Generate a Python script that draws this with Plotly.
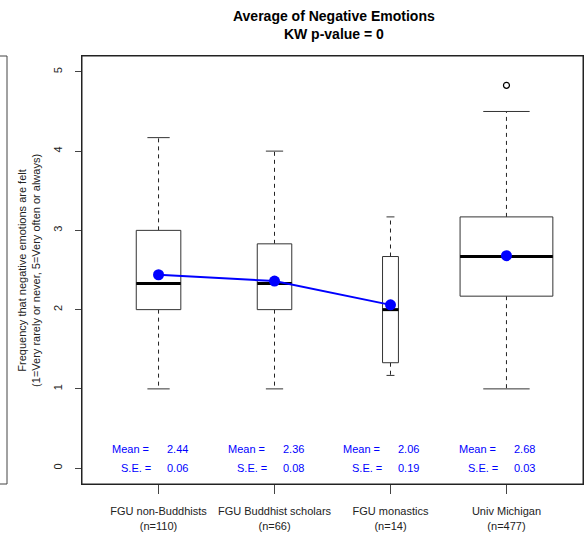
import numpy as np
import plotly.graph_objects as go

# data
groups = ["FGU non-Buddhists", "FGU Buddhist scholars", "FGU monastics", "Univ Michigan"]
n_obs = [110, 66, 14, 477]
lower_whisker = [1.0, 1.0, 1.17, 1.0]
q1 = [2.0, 2.0, 1.33, 2.17]
median = [2.33, 2.33, 2.0, 2.67]
q3 = [3.0, 2.83, 2.67, 3.17]
upper_whisker = [4.17, 4.0, 3.17, 4.5]
outlier_group = [4]
outlier_value = [4.83]
means = [2.44, 2.36, 2.06, 2.68]
std_err = [0.06, 0.08, 0.19, 0.03]
fgu_count = 3  # mean line only joins the FGU groups

FONT = "Liberation Sans, Arial, sans-serif"
xs = np.arange(1, len(groups) + 1)
half_w = 0.4 * np.sqrt(np.array(n_obs) / max(n_obs))

fig = go.Figure()

for i, x in enumerate(xs):
    w = half_w[i]
    # whiskers (dashed)
    fig.add_trace(go.Scatter(
        x=[x, x, None, x, x], y=[q3[i], upper_whisker[i], None, q1[i], lower_whisker[i]],
        mode="lines", line=dict(color="#222", width=1, dash="4px,4px"),
        hoverinfo="skip", showlegend=False))
    # staples
    fig.add_trace(go.Scatter(
        x=[x - w / 2, x + w / 2, None, x - w / 2, x + w / 2],
        y=[upper_whisker[i], upper_whisker[i], None, lower_whisker[i], lower_whisker[i]],
        mode="lines", line=dict(color="#333", width=1),
        hoverinfo="skip", showlegend=False))
    # box
    fig.add_trace(go.Scatter(
        x=[x - w, x + w, x + w, x - w, x - w], y=[q1[i], q1[i], q3[i], q3[i], q1[i]],
        mode="lines", fill="toself", fillcolor="white", line=dict(color="#333", width=1),
        hoverinfo="skip", showlegend=False))
    # median
    fig.add_trace(go.Scatter(
        x=[x - w, x + w], y=[median[i], median[i]],
        mode="lines", line=dict(color="black", width=3),
        hoverinfo="skip", showlegend=False))

fig.add_trace(go.Scatter(
    x=outlier_group, y=outlier_value, mode="markers",
    marker=dict(symbol="circle-open", size=6, color="black", line=dict(width=1.2)),
    showlegend=False))

fig.add_trace(go.Scatter(
    x=xs[:fgu_count], y=means[:fgu_count], mode="lines",
    line=dict(color="blue", width=2), showlegend=False))
fig.add_trace(go.Scatter(
    x=xs, y=means, mode="markers",
    marker=dict(color="blue", size=11), showlegend=False))

blue_font = dict(family=FONT, size=11, color="blue")
for i, x in enumerate(xs):
    fig.add_annotation(x=x, y=0.24, text="Mean =", xanchor="right", xshift=-8,
                       showarrow=False, font=blue_font)
    fig.add_annotation(x=x, y=0.24, text=f"{means[i]:.2f}", xanchor="left", xshift=6,
                       showarrow=False, font=blue_font)
    fig.add_annotation(x=x, y=0.0, text="S.E. =", xanchor="right", xshift=-6,
                       showarrow=False, font=blue_font)
    fig.add_annotation(x=x, y=0.0, text=f"{std_err[i]:.2f}", xanchor="left", xshift=6,
                       showarrow=False, font=blue_font)

# y-axis title, R style
fig.add_annotation(
    xref="paper", yref="paper", x=-0.106, y=0.5, xanchor="center", yanchor="middle",
    text="Frequency that negative emotions are felt<br>(1=Very rarely or never, 5=Very often or always)",
    textangle=-90, showarrow=False, font=dict(family=FONT, size=11, color="#222"))

# plot frame
fig.add_shape(type="rect", xref="paper", yref="paper", x0=0, y0=0, x1=1, y1=1,
              line=dict(color="#222", width=1), layer="above")

# edge of the neighbouring panel
for x0, y0, x1, y1 in [(-0.1497, 0, -0.1497, 1), (-0.17, 1, -0.1497, 1), (-0.17, 0, -0.1497, 0)]:
    fig.add_shape(type="line", xref="paper", yref="paper", x0=x0, y0=y0, x1=x1, y1=y1,
                  line=dict(color="#444", width=1))

tick_labels = [f"{g}<br>(n={n})" for g, n in zip(groups, n_obs)]

fig.update_layout(
    width=584, height=535,
    margin=dict(l=82, r=1, t=56, b=51),
    paper_bgcolor="white", plot_bgcolor="white",
    font=dict(family=FONT, size=11, color="#222"),
    title=dict(text="<b>Average of Negative Emotions<br>KW p-value = 0</b>",
               x=0.5717, xanchor="center", y=0.9607, yanchor="middle",
               font=dict(family=FONT, size=14, color="black")),
    xaxis=dict(range=[0.34, 4.66], tickvals=xs, ticktext=tick_labels,
               showgrid=False, zeroline=False, showline=True, mirror=True,
               linecolor="#222", linewidth=1, ticks="outside", ticklen=9,
               tickcolor="#444", tickfont=dict(size=11), ticklabelstandoff=8),
    yaxis=dict(range=[-0.2, 5.2], tickvals=[0, 1, 2, 3, 4, 5], tickangle=-90,
               showgrid=False, zeroline=False, showline=True, mirror=True,
               linecolor="#222", linewidth=1, ticks="outside", ticklen=6,
               tickcolor="#444", tickfont=dict(size=11), ticklabelstandoff=9),
)

fig.write_html("out.html", config={"displayModeBar": False},
               post_script="document.body.style.margin='0';")
